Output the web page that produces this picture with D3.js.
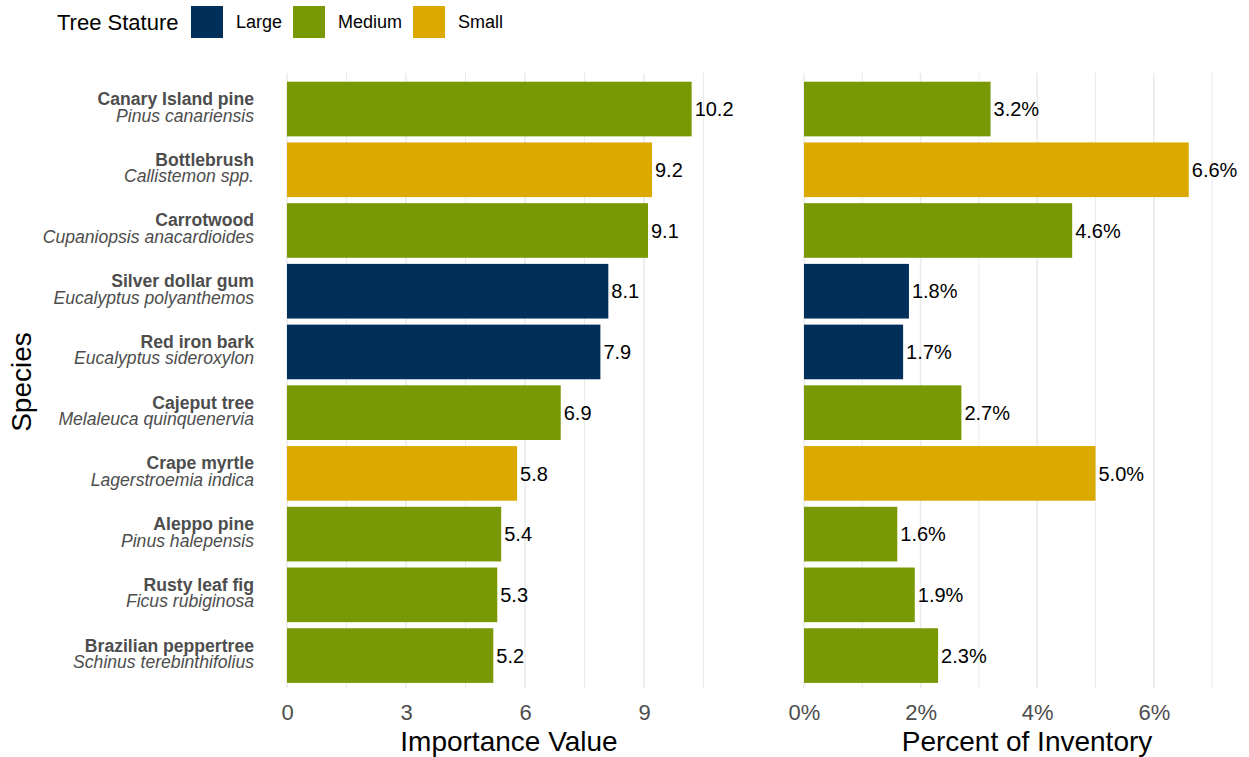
<!DOCTYPE html>
<html><head><meta charset="utf-8">
<script src="https://cdn.jsdelivr.net/npm/d3@7"></script>
<style>body{margin:0;background:#fff;} text{font-family:"Liberation Sans",Arial,sans-serif;}</style>
</head><body><svg id="c" width="1249" height="757"></svg>
<script>
const commonNames = ["Canary Island pine","Bottlebrush","Carrotwood","Silver dollar gum","Red iron bark","Cajeput tree","Crape myrtle","Aleppo pine","Rusty leaf fig","Brazilian peppertree"];
const sciNames = ["Pinus canariensis","Callistemon spp.","Cupaniopsis anacardioides","Eucalyptus polyanthemos","Eucalyptus sideroxylon","Melaleuca quinquenervia","Lagerstroemia indica","Pinus halepensis","Ficus rubiginosa","Schinus terebinthifolius"];
const stature = ["Medium","Small","Medium","Large","Large","Medium","Small","Medium","Medium","Medium"];
const importance = [10.2,9.2,9.1,8.1,7.9,6.9,5.8,5.4,5.3,5.2];
const percent = [3.2,6.6,4.6,1.8,1.7,2.7,5.0,1.6,1.9,2.3];
const statureLevels = ["Large","Medium","Small"];
const statureColors = ["#00305A","#789904","#DBA900"];
const impTicks = [0,3,6,9];
const pctTicks = [0,2,4,6];

const svg = d3.select("#c");
const color = d3.scaleOrdinal().domain(statureLevels).range(statureColors);
const y = d3.scaleBand().domain(commonNames).range([72.6,692]).paddingInner(0.1).paddingOuter(0.15);
const gridTop = 73, gridBot = 688;

const xImp = d3.scaleLinear().domain([0,1]).range([287,326.67]);
const xPct = d3.scaleLinear().domain([0,1]).range([804,862.3]);

function panel(x, vals, ticks, minor, fmtTick, fmtLab, title, titleX){
  const g = svg.append("g");
  minor.forEach(v=>g.append("line").attr("x1",x(v)).attr("x2",x(v)).attr("y1",gridTop).attr("y2",gridBot).attr("stroke","#ebebeb").attr("stroke-width",1));
  ticks.forEach(v=>g.append("line").attr("x1",x(v)).attr("x2",x(v)).attr("y1",gridTop).attr("y2",gridBot).attr("stroke","#ebebeb").attr("stroke-width",1.6));
  g.selectAll("rect.b").data(commonNames).enter().append("rect")
    .attr("x",x(0)).attr("y",d=>y(d)).attr("height",y.bandwidth())
    .attr("width",(d,i)=>x(vals[i])-x(0)).attr("fill",(d,i)=>color(stature[i]));
  g.selectAll("text.v").data(commonNames).enter().append("text")
    .attr("x",(d,i)=>x(vals[i])+3).attr("y",d=>y(d)+y.bandwidth()/2).attr("dy","0.36em")
    .attr("font-size",20).attr("fill","#000").text((d,i)=>fmtLab(vals[i]));
  const ax = d3.axisBottom(x).tickValues(ticks).tickFormat(fmtTick).tickSize(0).tickPadding(0);
  const ag = g.append("g").attr("transform",`translate(0,720)`).call(ax);
  ag.select(".domain").remove();
  ag.selectAll("text").attr("font-size",22).attr("fill","#4d4d4d").attr("font-family","Liberation Sans, Arial, sans-serif").attr("dy",0).attr("y",0);
  g.append("text").attr("x",titleX).attr("y",751).attr("text-anchor","middle").attr("font-size",28).attr("fill","#000").text(title);
}
panel(xImp, importance, impTicks, [1.5,4.5,7.5,10.5], d=>d, d=>d.toFixed(1), "Importance Value", 509);
panel(xPct, percent, pctTicks, [1,3,5,7], d=>d+"%", d=>d.toFixed(1)+"%", "Percent of Inventory", 1027);

// y labels
const yl = svg.append("g");
commonNames.forEach((n,i)=>{
  const c = y(n)+y.bandwidth()/2;
  yl.append("text").attr("x",254).attr("y",c-4).attr("text-anchor","end").attr("font-size",17.6).attr("font-weight","bold").attr("fill","#4d4d4d").text(n);
  yl.append("text").attr("x",254).attr("y",c+12.5).attr("text-anchor","end").attr("font-size",17.6).attr("font-style","italic").attr("fill","#4d4d4d").text(sciNames[i]);
});
svg.append("text").attr("transform","translate(31,382) rotate(-90)").attr("text-anchor","middle").attr("font-size",28).attr("fill","#000").text("Species");

// legend
const lg = svg.append("g");
lg.append("text").attr("x",57).attr("y",30).attr("font-size",22).attr("fill","#000").text("Tree Stature");
const keyX = [191,293,413];
statureLevels.forEach((s,i)=>{
  lg.append("rect").attr("x",keyX[i]).attr("y",6).attr("width",32).attr("height",32).attr("fill",color(s));
  lg.append("text").attr("x",keyX[i]+45).attr("y",28).attr("font-size",18).attr("fill","#000").text(s);
});
</script></body></html>
